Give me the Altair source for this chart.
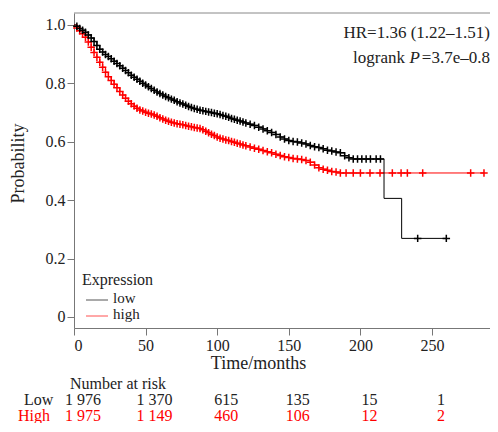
import altair as alt
import pandas as pd

# ---- data ----
low_t = [0, 2, 4, 6, 8, 10, 12, 14, 16, 18, 20, 22, 24, 26, 28, 30, 32, 34, 36, 38,
         40, 42, 44, 46, 48, 50, 52, 54, 56, 58, 60, 62, 64, 66, 68, 70, 72, 74, 76, 78,
         80, 82, 84, 86, 88, 90, 92, 94, 96, 98, 100, 102, 104, 106, 108, 110, 112, 114,
         116, 118, 120, 123, 126, 129, 132, 135, 138, 141, 144, 147, 150, 153, 156, 159,
         162, 165, 168, 171, 174, 177, 180, 183, 186, 189, 192, 195, 198, 201, 204, 207,
         211, 214, 216.5, 228.8, 240, 260]
low_s = [1.000, 0.996, 0.988, 0.982, 0.975, 0.966, 0.955, 0.943, 0.930, 0.917, 0.907,
         0.899, 0.892, 0.884, 0.876, 0.868, 0.860, 0.852, 0.844, 0.836, 0.828, 0.821,
         0.814, 0.807, 0.800, 0.794, 0.788, 0.782, 0.776, 0.770, 0.765, 0.760, 0.755,
         0.751, 0.746, 0.742, 0.737, 0.733, 0.729, 0.725, 0.721, 0.717, 0.714, 0.711,
         0.708, 0.706, 0.704, 0.702, 0.700, 0.698, 0.696, 0.693, 0.690, 0.687, 0.684,
         0.680, 0.677, 0.674, 0.671, 0.668, 0.664, 0.660, 0.656, 0.650, 0.644, 0.638,
         0.632, 0.625, 0.616, 0.609, 0.604, 0.601, 0.599, 0.596, 0.592, 0.587, 0.583,
         0.580, 0.576, 0.571, 0.568, 0.565, 0.562, 0.552, 0.545, 0.541, 0.541, 0.541,
         0.541, 0.541, 0.541, 0.541, 0.406, 0.269, 0.269, 0.269]
low_event_only = [0, 216.5, 228.8]

high_t = [0, 2, 4, 6, 8, 10, 12, 14, 16, 18, 20, 22, 24, 26, 28, 30, 32, 34, 36, 38,
          40, 42, 44, 46, 48, 50, 52, 54, 56, 58, 60, 62, 64, 66, 68, 70, 72, 74, 76, 78,
          80, 82, 84, 86, 88, 90, 92, 94, 96, 98, 100, 102, 104, 106, 108, 110, 112, 114,
          116, 118, 120, 123, 126, 129, 132, 135, 138, 141, 144, 147, 150, 153, 156, 159,
          162, 165, 168, 171, 174, 177, 180, 183, 186, 190, 195, 200, 206.7, 213.7, 222.3,
          228.4, 232.8, 243.5, 277, 286.3]
high_s = [1.000, 0.990, 0.980, 0.970, 0.958, 0.942, 0.924, 0.906, 0.889, 0.872, 0.855,
          0.838, 0.823, 0.810, 0.797, 0.785, 0.772, 0.760, 0.749, 0.739, 0.730, 0.722,
          0.715, 0.709, 0.705, 0.701, 0.698, 0.695, 0.692, 0.687, 0.682, 0.678, 0.674,
          0.670, 0.667, 0.664, 0.662, 0.660, 0.658, 0.656, 0.653, 0.651, 0.649, 0.647,
          0.645, 0.641, 0.636, 0.631, 0.626, 0.621, 0.616, 0.612, 0.609, 0.606, 0.604,
          0.601, 0.598, 0.595, 0.592, 0.589, 0.586, 0.582, 0.578, 0.574, 0.570, 0.566,
          0.562, 0.557, 0.553, 0.549, 0.546, 0.543, 0.541, 0.539, 0.536, 0.530, 0.520,
          0.511, 0.506, 0.502, 0.498, 0.496, 0.493, 0.493, 0.493, 0.493, 0.493, 0.493,
          0.493, 0.493, 0.493, 0.493, 0.493, 0.493]
high_event_only = [0]

risk_t = [0, 50, 100, 150, 200, 250]
risk_low = ["1 976", "1 370", "615", "135", "15", "1"]
risk_high = ["1 975", "1 149", "460", "106", "12", "2"]

legend_labels = ["low", "high"]
x_ticks = [0, 50, 100, 150, 200, 250]
y_ticks = [0, 0.2, 0.4, 0.6, 0.8, 1.0]

# ---- layout ----
FONT = "Liberation Serif"
W, H = 416, 315
XMAX = W / 1.432
xs = alt.Scale(domain=[0, XMAX], nice=False, zero=False)
ys = alt.Scale(domain=[-0.038, 1.041], nice=False, zero=False)

low = pd.DataFrame({"t": low_t, "s": low_s})
high = pd.DataFrame({"t": high_t, "s": high_s})
low_c = low[~low["t"].isin(low_event_only)]
high_c = high[~high["t"].isin(high_event_only)]
one = pd.DataFrame({"k": [0]})

X = alt.X("t:Q", scale=xs,
          axis=alt.Axis(values=x_ticks, title="Time/months", titleX=184, titleY=40,
                        titleBaseline="alphabetic", titleAlign="center"))
Y = alt.Y("s:Q", scale=ys,
          axis=alt.Axis(values=y_ticks, title="Probability", titleX=-56, titleY=150,
                        titleBaseline="middle", titleAlign="center",
                        labelExpr="datum.value == 0 ? '0' : format(datum.value, '.1f')"))

CROSS = "M-1,0H1M0,-1V1"

# top frame line (the reference shows no right-hand border)
top_line = alt.Chart(one).mark_rule(color="#888888", strokeWidth=1).encode(
    x=alt.value(0), x2=alt.value(W), y=alt.value(0))

red_line = alt.Chart(high).mark_line(interpolate="step-after", color="#ff0000",
                                     strokeWidth=1).encode(x=X, y=Y)
red_pts = alt.Chart(high_c).mark_point(shape=CROSS, size=56, filled=False, color="#ff0000",
                                       strokeWidth=1.5, opacity=1).encode(x="t:Q", y="s:Q")
blk_line = alt.Chart(low).mark_line(interpolate="step-after", color="#000000",
                                    strokeWidth=1).encode(x="t:Q", y="s:Q")
blk_pts = alt.Chart(low_c).mark_point(shape=CROSS, size=56, filled=False, color="#000000",
                                      strokeWidth=1.5, opacity=1).encode(x="t:Q", y="s:Q")

# legend (drawn inside the plot)
leg = pd.DataFrame({"lab": legend_labels, "ly": [287, 303], "tb": [290, 306],
                    "col": ["#555555", "#ff5050"]})
leg_title = alt.Chart(one).mark_text(text="Expression", font=FONT, fontSize=16, align="left",
                                     baseline="alphabetic", color="#222").encode(
    x=alt.value(8), y=alt.value(272))
leg_lines = alt.Chart(leg).mark_rule(strokeWidth=1).encode(
    x=alt.value(12), x2=alt.value(34), y=alt.Y("ly:Q", scale=None),
    color=alt.Color("col:N", scale=None))
leg_text = alt.Chart(leg).mark_text(font=FONT, fontSize=15, align="left",
                                    baseline="alphabetic", color="#222").encode(
    x=alt.value(39), y=alt.Y("tb:Q", scale=None), text="lab:N")

# statistics text
hr = alt.Chart(one).mark_text(text="HR=1.36 (1.22–1.51)", font=FONT, fontSize=17,
                              align="right", baseline="alphabetic", color="#222").encode(
    x=alt.value(416), y=alt.value(25))
lr1 = alt.Chart(one).mark_text(text="logrank", font=FONT, fontSize=17, align="right",
                               baseline="alphabetic", color="#222").encode(
    x=alt.value(331), y=alt.value(50))
lr2 = alt.Chart(one).mark_text(text="P", font=FONT, fontSize=17, fontStyle="italic",
                               align="right", baseline="alphabetic", color="#222").encode(
    x=alt.value(346), y=alt.value(50))
lr3 = alt.Chart(one).mark_text(text="=3.7e–0.8", font=FONT, fontSize=17, align="right",
                               baseline="alphabetic", color="#222").encode(
    x=alt.value(416), y=alt.value(50))

# number at risk table
TFS = 16
risk = pd.DataFrame({"t": risk_t, "low": risk_low, "high": risk_high})
nar = alt.Chart(one).mark_text(text="Number at risk", font=FONT, fontSize=TFS, align="left",
                               baseline="alphabetic", color="#222").encode(
    x=alt.value(-4), y=alt.value(376))
low_lab = alt.Chart(one).mark_text(text="Low", font=FONT, fontSize=TFS, align="left",
                                   baseline="alphabetic", color="#222").encode(
    x=alt.value(-50), y=alt.value(392))
high_lab = alt.Chart(one).mark_text(text="High", font=FONT, fontSize=TFS, align="left",
                                    baseline="alphabetic", color="#ff0000").encode(
    x=alt.value(-56), y=alt.value(408))
low_row = alt.Chart(risk).mark_text(font=FONT, fontSize=TFS, align="center", dx=9,
                                    baseline="alphabetic", color="#222").encode(
    x="t:Q", y=alt.value(392), text="low:N")
high_row = alt.Chart(risk).mark_text(font=FONT, fontSize=TFS, align="center", dx=9,
                                     baseline="alphabetic", color="#ff0000").encode(
    x="t:Q", y=alt.value(408), text="high:N")

chart = alt.layer(
    red_line, red_pts, blk_line, blk_pts, top_line,
    leg_title, leg_lines, leg_text, hr, lr1, lr2, lr3,
    nar, low_lab, high_lab, low_row, high_row,
).properties(
    width=W, height=H,
    autosize=alt.AutoSizeParams(type="none"),
    padding={"left": 66, "top": 5, "right": 0, "bottom": 95},
).configure_view(
    strokeWidth=0
).configure_axis(
    grid=False, domainColor="#777777", tickColor="#777777", tickSize=7,
    labelFont=FONT, labelFontSize=16, labelColor="#222", labelPadding=2,
    titleFont=FONT, titleFontSize=18, titleFontWeight="normal", titleColor="#222",
    domainWidth=1, tickWidth=1,
)

chart.save("out.html", embed_options={"renderer": "svg", "actions": False})
